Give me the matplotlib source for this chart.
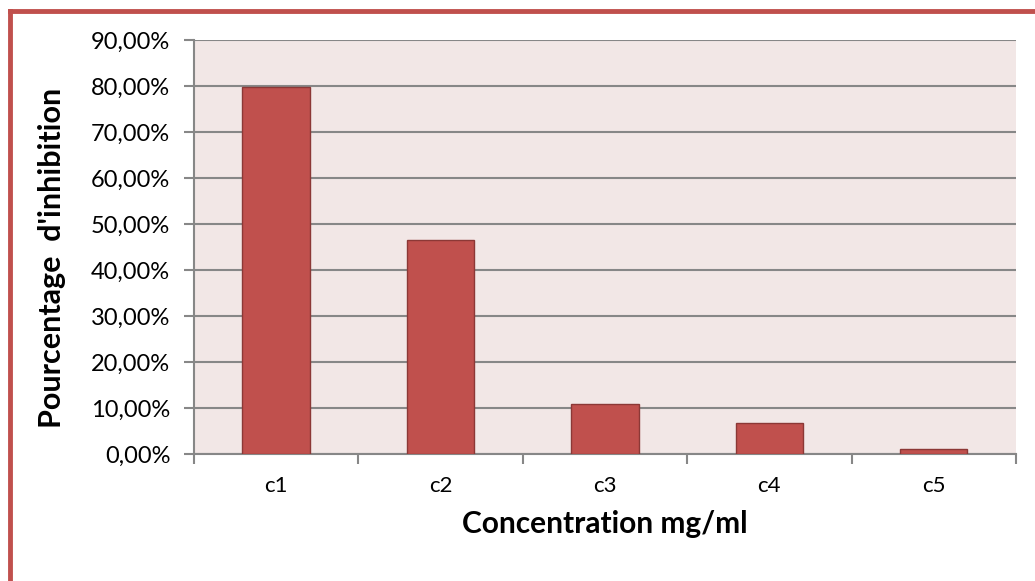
import numpy as np
import matplotlib.pyplot as plt
from matplotlib.lines import Line2D
from matplotlib.ticker import FuncFormatter

categories = ['c1', 'c2', 'c3', 'c4', 'c5']
inhibition = [79.7, 46.6, 10.8, 6.7, 1.0]   # percent
yticks = np.arange(0, 91, 10)

plt.rcParams['font.family'] = ['Lato', 'DejaVu Sans']

fig = plt.figure(figsize=(10.35, 5.81), dpi=100)
ax = fig.add_axes([0.1874, 0.2186, 0.9816 - 0.1874, 0.9312 - 0.2186])
ax.set_facecolor('#F2E7E6')

x = np.arange(len(categories))
ax.bar(x, inhibition, width=0.41, color='#C0504D', edgecolor='#8C3836',
       linewidth=1.0, zorder=3)

ax.set_xlim(-0.5, len(categories) - 0.5)
ax.set_ylim(0, 90)
ax.set_yticks(yticks)
ax.yaxis.set_major_formatter(FuncFormatter(lambda v, p: f'{v:.2f}%'.replace('.', ',')))
ax.grid(axis='y', color='#878787', linewidth=1.5, zorder=1)

# category labels without tick marks, tick marks at boundaries
ax.set_xticks(x)
ax.set_xticklabels(categories, fontsize=16)
ax.tick_params(axis='x', length=0, pad=16)
ax.set_xticks(np.arange(-0.5, len(categories)), minor=True)
ax.tick_params(axis='x', which='minor', length=7, width=1.5, color='#878787')
ax.tick_params(axis='y', length=7, width=1.5, color='#878787', labelsize=17, pad=10)

for s in ['top', 'right']:
    ax.spines[s].set_visible(False)
for s in ['left', 'bottom']:
    ax.spines[s].set_color('#878787')
    ax.spines[s].set_linewidth(1.5)

ax.set_xlabel('Concentration mg/ml', fontsize=21.5, fontweight='bold', labelpad=10)
ax.set_ylabel("Pourcentage  d'inhibition", fontsize=22, fontweight='bold',
              labelpad=18, y=0.473)

# chart frame (top and left edges visible)
fig.add_artist(Line2D([9.5 / 1035, 1.0], [1 - 11 / 581, 1 - 11 / 581],
                      color='#C0504D', linewidth=3.5))
fig.add_artist(Line2D([9.5 / 1035, 9.5 / 1035], [0, 1 - 11 / 581],
                      color='#C0504D', linewidth=3.5))

fig.savefig('out.png', dpi=100)
